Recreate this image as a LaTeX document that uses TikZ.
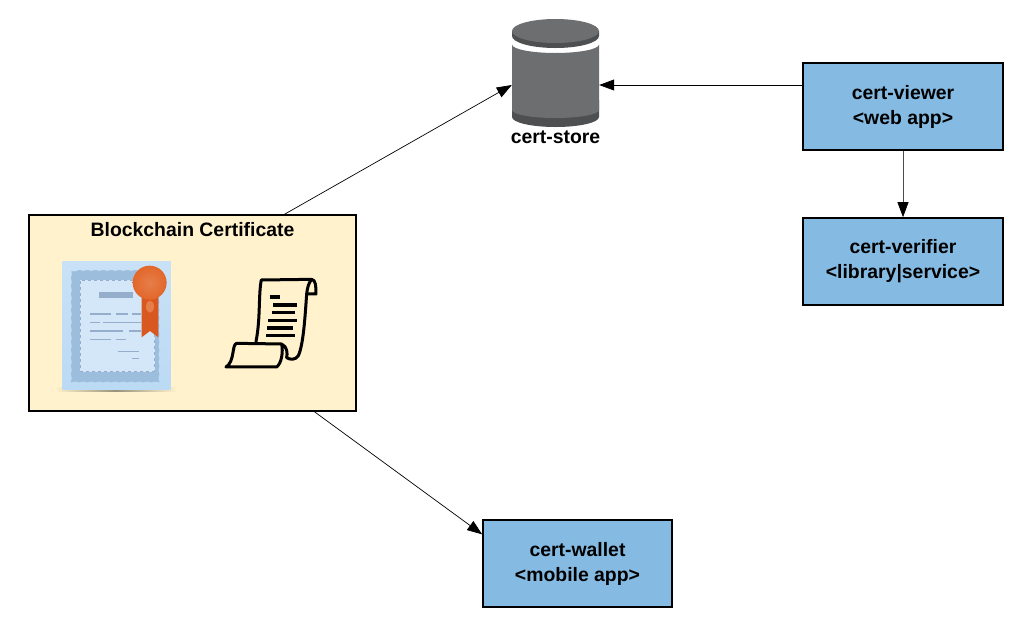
\documentclass[tikz,border=0pt]{standalone}
\usepackage{fontspec}
\setmainfont{Liberation Sans}
\usetikzlibrary{arrows.meta, positioning, decorations.pathmorphing}
\definecolor{boxblue}{HTML}{85BBE3}
\definecolor{certcream}{HTML}{FFF2CC}
\definecolor{storegrey}{HTML}{6D6E70}
\definecolor{storedark}{HTML}{4E4F51}
\definecolor{paperblue}{HTML}{BBDAF4}
\definecolor{bandblue}{HTML}{9DBDDC}
\definecolor{inkblue}{HTML}{94AECB}
\definecolor{sealorange}{HTML}{E2672A}
\definecolor{ribbonorange}{HTML}{D9581F}
\tikzset{
	appbox/.style={draw=black, line width=1.6pt, fill=boxblue, align=center, font=\bfseries\fontsize{19.4}{25}\selectfont, inner sep=0pt},
	boldlabel/.style={font=\bfseries\fontsize{19.4}{23}\selectfont, inner sep=0pt},
	link/.style={-{Triangle[length=15pt,width=11pt,color=black,fill=black]}, line width=0.7pt},
	inkline/.style={inkblue, line width=1.6pt},
	scrollink/.style={black, line width=3pt, line join=round, line cap=round}
}
\begin{document}
\begin{tikzpicture}[x=1pt, y=-1pt]
	\useasboundingbox (0,0) rectangle (1018,622);
	% Define nodes (apps and store)
	\node (viewer) [appbox, minimum width=200pt, minimum height=87pt] at (903,106.5) {cert-viewer\\<web app>};
	\node (verifier) [appbox, minimum width=200pt, minimum height=87pt, below=66.4pt of viewer] {cert-verifier\\<library|service>};
	\node (wallet) [appbox, minimum width=189pt, minimum height=87pt] at (577.5,563.5) {cert-wallet\\<mobile app>};
	\node (blockchain) [draw=black, line width=1.6pt, fill=certcream, minimum width=327pt, minimum height=196pt] at (192.5,313) {};
	\node (title) [boldlabel] at (192.5,230) {Blockchain Certificate};
	\node (store) [minimum width=87pt, minimum height=84pt, inner sep=0pt] at (555.5,85) {};
	\node (storelabel) [boldlabel] at (555.5,137.5) {cert-store};

	% Draw the store
	\fill[storedark] (512,100) -- (512,117) arc[start angle=180, end angle=360, x radius=43.5pt, y radius=10pt] -- (599,100) -- cycle;
	\fill[storegrey] (512,44.5) -- (512,110) arc[start angle=180, end angle=360, x radius=43.5pt, y radius=8pt] -- (599,44.5) arc[start angle=0, end angle=180, x radius=43.5pt, y radius=-8.5pt] -- cycle;
	\fill[storedark] (512,31) -- (512,36) arc[start angle=180, end angle=360, x radius=43.5pt, y radius=12pt] -- (599,31) -- cycle;
	\fill[storegrey] (555.5,31) ellipse[x radius=43.5pt, y radius=12pt];

	% Draw the certificate
	\begin{scope}[shift={(20,205)}, x=0.3333pt, y=-0.3333pt]
		\shade[left color=certcream, right color=certcream, middle color=black!40!certcream] (105,547) rectangle (470,560);
		\shade[top color=paperblue!80!white, bottom color=paperblue] (128,170) rectangle (452,553);
		\draw[bandblue, fill=bandblue, decorate, decoration={snake, amplitude=0.5pt, segment length=8pt}] (155,200) rectangle (425,525);
		\fill[paperblue!65!white] (180,225) rectangle (405,500);
		\draw[inkblue, dashed, line width=0.7pt] (182,227) rectangle (403,498);
		\fill[inkblue] (237,261) rectangle (340,279);
		\foreach \xa/\xb/\ya in {210/273/327, 288/325/327, 337/362/327, 210/240/352, 250/362/352, 210/310/378, 327/362/378, 210/272/403, 288/318/403, 295/356/440, 337/356/460}
			\draw[inkline] (\xa,\ya) -- (\xb,\ya);
		\fill[ribbonorange] (365,270) -- (415,270) -- (415,397) -- (390,378) -- (365,397) -- cycle;
		\fill[sealorange!85!white] (390,305) ellipse[x radius=4pt, y radius=6pt];
		\shade[inner color=sealorange!85!white, outer color=sealorange] (389,233) circle[radius=17pt];
	\end{scope}

	% Draw the scroll
	\begin{scope}[shift={(20,205)}, x=0.3333pt, y=-0.3333pt]
		\draw[scrollink] (708,410) .. controls (722,340) and (715,270) .. (724,225) -- (875,223) .. controls (865,235) and (862,250) .. (860,268) .. controls (855,340) and (850,420) .. (835,452) .. controls (828,465) and (810,465) .. (800,458);
		\draw[scrollink] (875,223) .. controls (888,225) and (888,245) .. (888,267) -- (860,267);
		\draw[scrollink] (785,417) -- (650,415) .. controls (635,418) and (645,470) .. (618,486) -- (770,486) .. controls (785,475) and (790,440) .. (785,417) .. controls (802,425) and (803,445) .. (800,458);
		\foreach \xa/\xb/\ya in {750/780/276, 760/832/300, 757/826/323, 745/832/346, 742/820/369, 738/826/392}
			\draw[black, line width=3.2pt] (\xa,\ya) -- (\xb,\ya);
	\end{scope}

	% Draw connections
	\draw[link] (blockchain.47) -- (store.west);
	\draw[link] (viewer.west |- store.east) -- (store.east);
	\draw[link, black!70] (viewer) -- (verifier);
	\draw[link] (blockchain.-39.3) -- (wallet.163.2);
\end{tikzpicture}
\end{document}
